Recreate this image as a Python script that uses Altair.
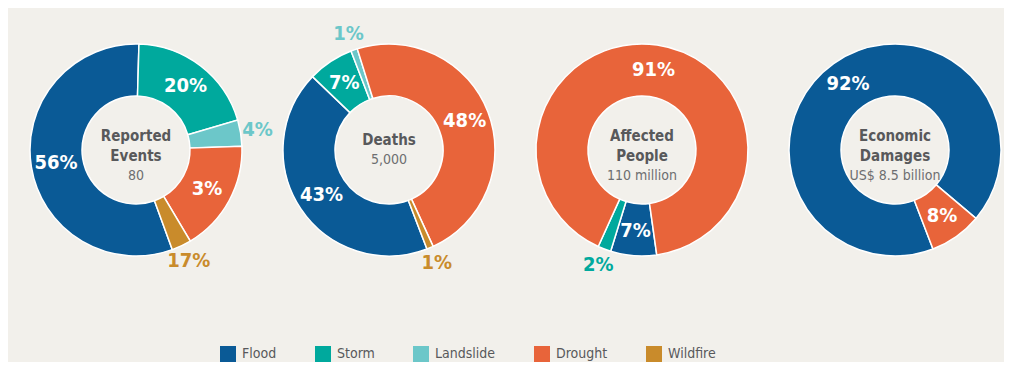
import math
import altair as alt
import pandas as pd

# ---------------- data ----------------
categories = ["Flood", "Storm", "Landslide", "Drought", "Wildfire"]
colors = ["#0a5a96", "#00a99d", "#6cc7c9", "#e8643a", "#c98b2b"]

panel_titles = [["Reported", "Events"], ["Deaths"], ["Affected", "People"], ["Economic", "Damages"]]
panel_totals = ["80", "5,000", "110 million", "US$ 8.5 billion"]

# slice shares (percent) in category order
share_events = [56, 20, 4, 17, 3]
share_deaths = [43, 7, 1, 48, 1]
share_affected = [7, 2, 0, 91, 0]
share_damages = [92, 0, 0, 8, 0]

# labels as printed on the original chart
label_events = ["56%", "20%", "4%", "3%", "17%"]
label_deaths = ["43%", "7%", "1%", "48%", "1%"]
label_affected = ["7%", "2%", "", "91%", ""]
label_damages = ["92%", "", "", "8%", ""]

shares = [share_events, share_deaths, share_affected, share_damages]
labels = [label_events, label_deaths, label_affected, label_damages]
start_deg = [160, 159, 172, 159]  # rotation of the first (Flood) slice

# ---------------- style ----------------
FONT = "DejaVu Sans Condensed, DejaVu Sans, sans-serif"
BG = "#f2f0eb"
W, H = 218, 350
SPACING = 35
PAD_LEFT = 19
CX, CY = W / 2, 142
R_OUT, R_IN = 106, 54

color_scale = alt.Scale(domain=categories, range=colors)


def panel(i):
    df = pd.DataFrame({
        "category": categories,
        "k": list(range(len(categories))),
        "share": shares[i],
        "label": labels[i],
    })
    df = df[df["share"] > 0]
    total = float(df["share"].sum())
    s = math.radians(start_deg[i])
    tscale = alt.Scale(domain=[0, total], range=[s, s + 2 * math.pi])

    base = (
        alt.Chart(df)
        .transform_stack(stack="share", as_=["s0", "s1"], groupby=[],
                         sort=[alt.SortField("k", order="ascending")])
        .transform_calculate(mid="(datum.s0 + datum.s1) / 2")
        .encode(x=alt.value(CX), y=alt.value(CY))
    )
    arcs = base.mark_arc(outerRadius=R_OUT, innerRadius=R_IN, stroke="white",
                         strokeWidth=1.5).encode(
        theta=alt.Theta("s0:Q", scale=tscale),
        theta2="s1:Q",
        color=alt.Color("category:N", scale=color_scale, sort=categories,
                        legend=alt.Legend(
                            orient="none", legendX=193, legendY=338,
                            direction="horizontal", title=None,
                            symbolType="square", symbolSize=256,
                            symbolStrokeWidth=0, symbolOpacity=1,
                            labelFont=FONT, labelFontSize=14, labelColor="#58595b",
                            labelOffset=6, columnPadding=38, padding=0,
                        ))
    )
    inside = base.transform_filter("datum.share >= 5").mark_text(
        radius=81, font=FONT, fontSize=20, fontWeight="bold",
        color="white", align="center", baseline="middle").encode(
        theta=alt.Theta("mid:Q", scale=tscale),
        text="label:N",
    )
    outside = base.transform_filter("datum.share < 5").mark_text(
        radius=123, font=FONT, fontSize=20, fontWeight="bold",
        align="center", baseline="middle").encode(
        theta=alt.Theta("mid:Q", scale=tscale),
        text="label:N",
        color=alt.Color("category:N", scale=color_scale, legend=None),
    )
    n = len(panel_titles[i]) + 1
    first = CY + (n - 2) * 6 - (n - 1) * 10
    cdf = pd.DataFrame({"title": ["\n".join(panel_titles[i])], "total": [panel_totals[i]]})
    ctitle = alt.Chart(cdf).mark_text(font=FONT, fontSize=15, fontWeight="bold",
                                      color="#58595b", lineBreak="\n", lineHeight=20,
                                      align="center", baseline="middle").encode(
        text="title:N", x=alt.value(CX), y=alt.value(first))
    ctotal = alt.Chart(cdf).mark_text(font=FONT, fontSize=14, color="#6d6e70",
                                      align="center", baseline="middle").encode(
        text="total:N", x=alt.value(CX), y=alt.value(first + (n - 1) * 20))
    return alt.layer(arcs, inside, outside, ctitle, ctotal).properties(width=W, height=H)


chart = alt.hconcat(*[panel(i) for i in range(4)], spacing=SPACING, bounds="flush").resolve_scale(
    theta="independent", color="shared"
).properties(
    padding={"left": PAD_LEFT, "top": 0, "right": 0, "bottom": 0},
    background=BG,
).configure_view(stroke=None)

chart.save("out.html", embed_options={"renderer": "svg", "actions": False})
